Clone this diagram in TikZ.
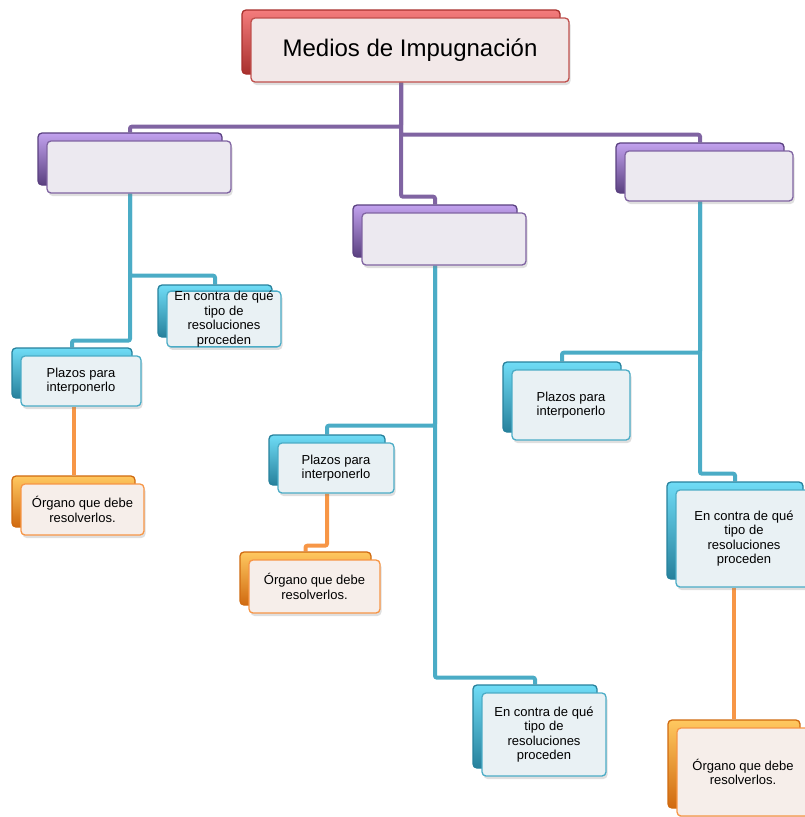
\documentclass[tikz,border=0pt]{standalone}
\usepackage{fontspec}
\setmainfont{Liberation Sans}
\usetikzlibrary{shadows,backgrounds}
\definecolor{purpL}{HTML}{C2A2EE}
\definecolor{purpM}{HTML}{7D5DA8}
\definecolor{purpD}{HTML}{5A4080}
\definecolor{purpB}{HTML}{8064A2}
\definecolor{purpF}{HTML}{ECE9F0}
\definecolor{tealL}{HTML}{6FDCF6}
\definecolor{tealM}{HTML}{38A6C4}
\definecolor{tealD}{HTML}{27819C}
\definecolor{tealB}{HTML}{4BACC6}
\definecolor{tealF}{HTML}{E9F1F4}
\definecolor{oranL}{HTML}{FFC860}
\definecolor{oranM}{HTML}{F38E22}
\definecolor{oranD}{HTML}{D06A10}
\definecolor{oranB}{HTML}{F79646}
\definecolor{oranF}{HTML}{F6EEEA}
\definecolor{redL}{HTML}{F47C7C}
\definecolor{redM}{HTML}{D24A46}
\definecolor{redD}{HTML}{A8302D}
\definecolor{redB}{HTML}{C0504D}
\definecolor{redF}{HTML}{F2E8E8}
\tikzset{
  boxbase/.style={rectangle, rounded corners=4pt, inner sep=0pt, line width=1.3pt,
    align=center, font=\fontsize{13}{14.5}\selectfont},
  frontshadow/.style={drop shadow={opacity=0.25, shadow xshift=1.5pt, shadow yshift=-3pt}},
  purpleback/.style={boxbase, draw=purpD, top color=purpL, middle color=purpM, bottom color=purpD},
  purplefront/.style={boxbase, draw=purpB, fill=purpF, frontshadow},
  tealback/.style={boxbase, draw=tealD, top color=tealL, middle color=tealM, bottom color=tealD},
  tealfront/.style={boxbase, draw=tealB, fill=tealF, frontshadow},
  orangeback/.style={boxbase, draw=oranD, top color=oranL, middle color=oranM, bottom color=oranD},
  orangefront/.style={boxbase, draw=oranB, fill=oranF, frontshadow},
  redback/.style={boxbase, draw=redD, top color=redL, middle color=redM, bottom color=redD},
  redfront/.style={boxbase, draw=redB, fill=redF, frontshadow},
  purpline/.style={draw=purpB, line width=4pt, rounded corners=2pt},
  tealline/.style={draw=tealB, line width=4pt, rounded corners=2pt},
  oranline/.style={draw=oranB, line width=4pt, rounded corners=2pt},
}
% #1 name, #2 scheme, #3 x, #4 y (top-left of back tab), #5 w, #6 h, #7 text
\newcommand\smbox[7]{%
  \node[#2back, minimum width=#5pt, minimum height=#6pt] (#1b) at ({#3+#5/2},{#4+#6/2}) {};
  \node[#2front, minimum width=#5pt, minimum height=#6pt] (#1) at ({#3+9+#5/2},{#4+8+#6/2}) {#7};
}
\begin{document}
\begin{tikzpicture}[x=1pt,y=-1pt]
\useasboundingbox (0,0) rectangle (805,817);
\clip (0,0) rectangle (805,817);

\smbox{root}{red}{242}{10}{318}{64}{\fontsize{24}{28}\selectfont Medios de Impugnación}
\smbox{L}{purple}{38}{133}{184}{52}{}
\smbox{M}{purple}{353}{205}{164}{52}{}
\smbox{R}{purple}{616}{143}{168}{50}{}
\smbox{LE}{teal}{158}{285}{114}{52}{En contra de qué\\tipo de\\resoluciones\\proceden}
\smbox{LP}{teal}{12}{348}{120}{50}{Plazos para\\interponerlo}
\smbox{LO}{orange}{12}{476}{123}{51}{Órgano que debe\\resolverlos.}
\smbox{MP}{teal}{269}{435}{116}{50}{Plazos para\\interponerlo}
\smbox{MO}{orange}{240}{552}{131}{53}{Órgano que debe\\resolverlos.}
\smbox{ME}{teal}{473}{685}{124}{83}{En contra de qué\\tipo de\\resoluciones\\proceden}
\smbox{RP}{teal}{503}{362}{118}{70}{Plazos para\\interponerlo}
\smbox{RE}{teal}{667}{482}{136}{97}{En contra de qué\\tipo de\\resoluciones\\proceden}
\smbox{RO}{orange}{668}{720}{132}{88}{Órgano que debe\\resolverlos.}

\begin{pgfonlayer}{background}
\draw[purpline] ([xshift=-9pt]root.south) -- ++(0,44) -| (Lb.north);
\draw[purpline] ([xshift=-9pt]root.south) -- ++(0,52) -| (Rb.north);
\draw[purpline] ([xshift=-9pt]root.south) -- ++(0,114) -| (Mb.north);
\draw[tealline] (Lb.south |- L.south) -- ++(0,82) -| (LEb.north);
\draw[tealline] (Lb.south |- L.south) -- ++(0,147) -| (LPb.north);
\draw[oranline] (LOb.north |- LP.south) -- (LOb.north);
\draw[tealline] (Mb.south |- M.south) -- ++(0,160) -| (MPb.north);
\draw[tealline] (Mb.south |- M.south) -- ++(0,412) -| (MEb.north);
\draw[oranline] (MPb.south |- MP.south) -- ++(0,52) -| (MOb.north);
\draw[tealline] (Rb.south |- R.south) -- ++(0,151) -| (RPb.north);
\draw[tealline] (Rb.south |- R.south) -- ++(0,272) -| (REb.north);
\draw[oranline] (ROb.north |- RE.south) -- (ROb.north);
\end{pgfonlayer}
\end{tikzpicture}
\end{document}
